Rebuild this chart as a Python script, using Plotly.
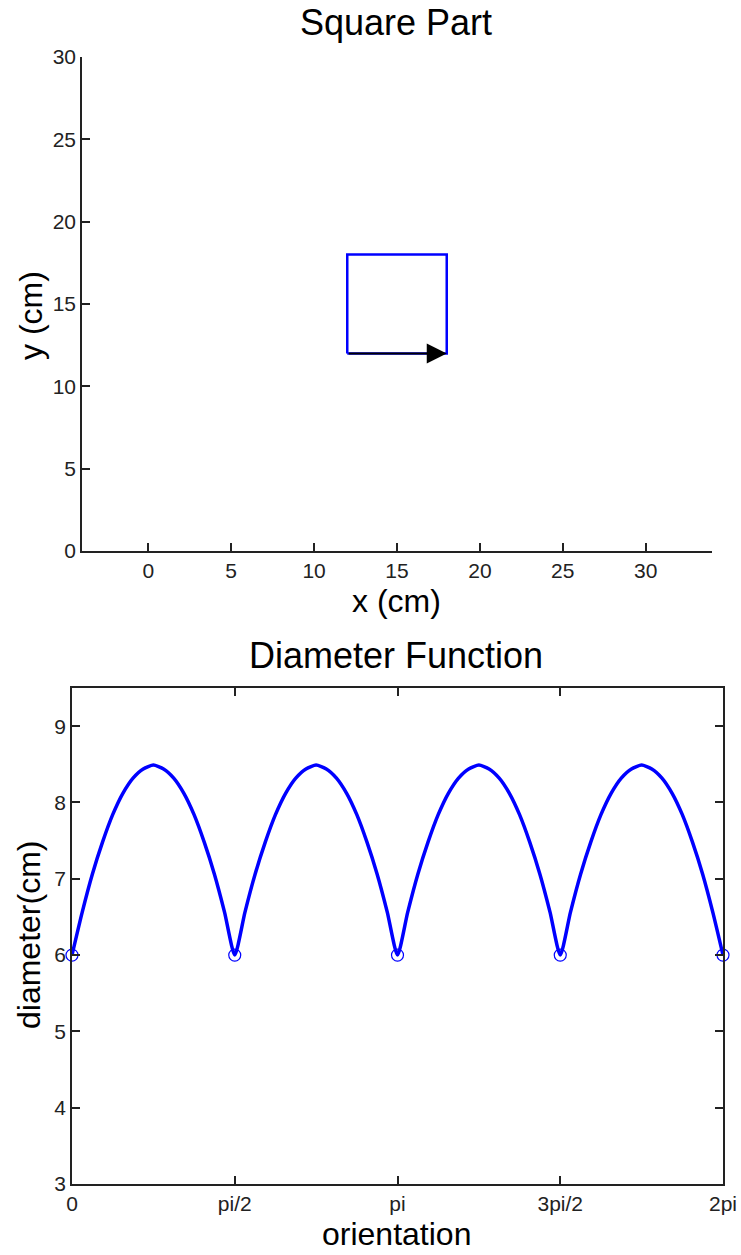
import numpy as np
import plotly.graph_objects as go

W, H = 741, 1255

# ---- data: top plot (square part) ----
square_x = [12, 12, 18, 18, 12]
square_y = [12, 18, 18, 12, 12]
arrow_start = (12, 12)
arrow_end = (18, 12)

# ---- data: bottom plot (diameter function) ----
diameter = [
    6.00, 6.56, 7.06, 7.48, 7.84, 8.12, 8.32, 8.44, 8.49, 8.44, 8.32, 8.12, 7.84, 7.48, 7.06, 6.56,
    6.00, 6.56, 7.06, 7.48, 7.84, 8.12, 8.32, 8.44, 8.49, 8.44, 8.32, 8.12, 7.84, 7.48, 7.06, 6.56,
    6.00, 6.56, 7.06, 7.48, 7.84, 8.12, 8.32, 8.44, 8.49, 8.44, 8.32, 8.12, 7.84, 7.48, 7.06, 6.56,
    6.00, 6.56, 7.06, 7.48, 7.84, 8.12, 8.32, 8.44, 8.49, 8.44, 8.32, 8.12, 7.84, 7.48, 7.06, 6.56,
    6.00,
]
orientation = np.linspace(0, 2 * np.pi, len(diameter))
minima_x = [0, np.pi / 2, np.pi, 3 * np.pi / 2, 2 * np.pi]
minima_y = [6, 6, 6, 6, 6]
x_tickvals = [0, np.pi / 2, np.pi, 3 * np.pi / 2, 2 * np.pi]
x_ticktext = ["0", "pi/2", "pi", "3pi/2", "2pi"]

FONT = "Liberation Sans, Arial, sans-serif"
TICKF = dict(family=FONT, size=21, color="#222")
BLUE = "#0000ff"

fig = go.Figure()
fig.add_trace(go.Scatter(x=square_x, y=square_y, mode="lines",
                         line=dict(color=BLUE, width=2.5), xaxis="x", yaxis="y",
                         showlegend=False, hoverinfo="skip"))
fig.add_trace(go.Scatter(x=orientation, y=diameter, mode="lines",
                         line=dict(color=BLUE, width=3.5, shape="spline", smoothing=0.6),
                         xaxis="x2", yaxis="y2", showlegend=False))
fig.add_trace(go.Scatter(x=minima_x, y=minima_y, mode="markers",
                         marker=dict(symbol="circle-open", size=12, color=BLUE,
                                     line=dict(width=1.2, color=BLUE)),
                         xaxis="x2", yaxis="y2", showlegend=False, cliponaxis=False))

def px_dom_x(a, b):
    return [a / W, b / W]

def px_dom_y(top, bottom):
    return [1 - bottom / H, 1 - top / H]

axis_common = dict(showline=True, linecolor="#222", linewidth=1.5, ticks="inside",
                   ticklen=8, tickwidth=1.5, tickcolor="#222", showgrid=False,
                   zeroline=False, tickfont=TICKF, automargin=False,
                   ticklabeloverflow="allow")

fig.update_layout(
    width=W, height=H, margin=dict(l=0, r=0, t=0, b=0, autoexpand=False),
    paper_bgcolor="white", plot_bgcolor="white",
    xaxis=dict(domain=px_dom_x(82, 712), range=[-4, 34], tickvals=[0, 5, 10, 15, 20, 25, 30],
               anchor="y", **axis_common),
    yaxis=dict(domain=px_dom_y(57, 551), range=[0, 30], tickvals=[0, 5, 10, 15, 20, 25, 30],
               anchor="x", **axis_common),
    xaxis2=dict(domain=px_dom_x(72, 723), range=[0, 2 * np.pi], tickvals=x_tickvals,
                ticktext=x_ticktext, anchor="y2", mirror="ticks", **axis_common),
    yaxis2=dict(domain=px_dom_y(688, 1184), range=[3, 9.5], tickvals=[3, 4, 5, 6, 7, 8, 9],
                anchor="x2", mirror="ticks", **axis_common),
)

fig.add_annotation(x=arrow_end[0], y=arrow_end[1], ax=arrow_start[0], ay=arrow_start[1],
                   xref="x", yref="y", axref="x", ayref="y", showarrow=True,
                   arrowhead=2, arrowsize=2, arrowwidth=2, arrowcolor="black",
                   standoff=0, startstandoff=0, text="")

def label(text, x, y, size, angle=0):
    fig.add_annotation(text=text, x=x / W, y=1 - y / H, xref="paper", yref="paper",
                       showarrow=False, textangle=angle, xanchor="center", yanchor="middle",
                       font=dict(family=FONT, size=size, color="black"))

label("Square Part", 396, 22, 36)
label("x (cm)", 396, 601, 32)
label("y (cm)", 31, 316, 32, -90)
label("Diameter Function", 396, 655, 36)
label("orientation", 396, 1234, 32)
label("diameter(cm)", 29, 935, 32, -90)

fig.write_html("out.html")
